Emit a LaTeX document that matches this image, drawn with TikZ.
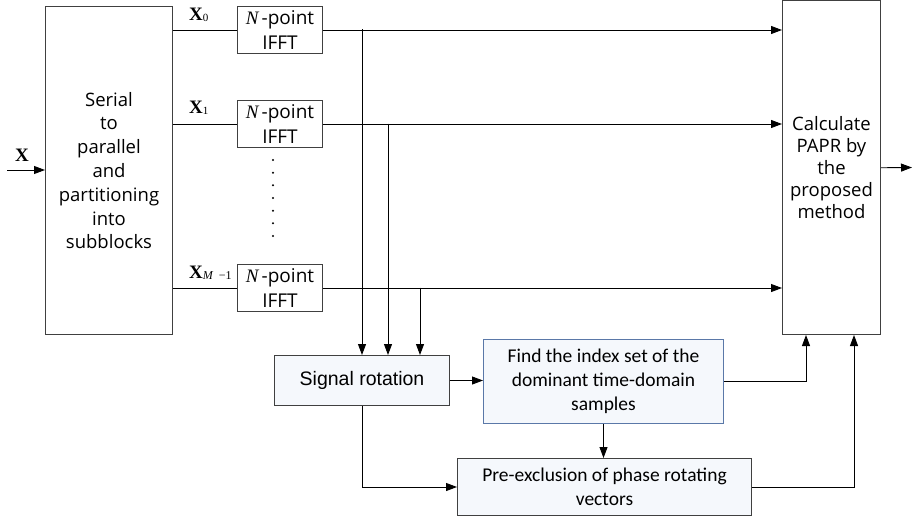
\documentclass[tikz,border=0pt]{standalone}
\usepackage{fontspec}
\setmainfont{Open Sans}
\newfontfamily\arialf{Liberation Sans}
\newfontfamily\calib{Carlito}
\newfontfamily\tnr{Liberation Serif}
\usetikzlibrary{arrows.meta}
\definecolor{edge}{HTML}{404040}
\definecolor{bluedge}{HTML}{5A78A8}
\definecolor{softfill}{HTML}{F5F8FC}
\begin{document}
\begin{tikzpicture}[x=1pt,y=-1pt,
  blk/.style={draw=edge, line width=1pt, inner sep=0pt, align=center, anchor=north west},
  arr/.style={-{Triangle[length=11pt,width=8pt]}, line width=0.9pt},
  ln/.style={line width=0.9pt},
  lbl/.style={inner sep=0pt, font=\tnr\fontsize{19}{19}\selectfont\bfseries}]
\useasboundingbox (0,0) rectangle (912,519);

% processing blocks
\node[blk, minimum width=127pt, minimum height=328pt,
      font=\fontsize{18.5}{23.8}\selectfont] (serial) at (45,6)
  {Serial\\to\\parallel\\and\\partitioning\\into\\subblocks};
\node[blk, minimum width=85pt, minimum height=47pt,
      font=\fontsize{19}{25}\selectfont] (ifft0) at (237,6)
  {{\tnr\itshape N}\,-point\\IFFT};
\node[blk, minimum width=85pt, minimum height=47pt,
      font=\fontsize{19}{25}\selectfont] (ifft1) at (237,100)
  {{\tnr\itshape N}\,-point\\IFFT};
\node[blk, minimum width=85pt, minimum height=47pt,
      font=\fontsize{19}{25}\selectfont] (ifft2) at (237,264)
  {{\tnr\itshape N}\,-point\\IFFT};
\node[blk, minimum width=98pt, minimum height=333.5pt,
      font=\fontsize{18.5}{22}\selectfont] (papr) at (782,0.5)
  {Calculate\\PAPR by\\the\\proposed\\method};
\node[blk, fill=softfill, minimum width=175pt, minimum height=50pt,
      font=\arialf\fontsize{19.5}{22}\selectfont] (sigrot) at (274,355)
  {Signal rotation};
\node[blk, draw=bluedge, fill=softfill, minimum width=240pt, minimum height=84pt,
      font=\calib\fontsize{19.5}{24}\selectfont] (find) at (483,339)
  {Find the index set of the\\dominant time-domain\\samples};
\node[blk, fill=softfill, minimum width=294pt, minimum height=57pt,
      font=\calib\fontsize{19.5}{24}\selectfont] (pre) at (457,458)
  {Pre-exclusion of phase rotating\\vectors};

% signal labels
\node[lbl] (lx) at (22,155) {X};
\node[lbl, anchor=west] (lx0) at (189,15)
  {X\raisebox{-1.5pt}{\mdseries\fontsize{11}{11}\selectfont 0}};
\node[lbl, anchor=west] (lx1) at (189,108)
  {X\raisebox{-1.5pt}{\mdseries\fontsize{11}{11}\selectfont 1}};
\node[lbl, anchor=west] (lxm) at (189,273)
  {X\raisebox{-1.5pt}{\mdseries\fontsize{12}{12}\selectfont\itshape M\upshape\ \ −1}};

% vertical ellipsis between the IFFT branches
\foreach \yy in {160,172.7,185.3,198,210.7,223.3,236}
  \fill (273,\yy) circle (1.1pt);

% input and serial-to-parallel outputs
\coordinate (xin) at (7,170);
\draw[arr] (xin) -- (xin -| serial.west);
\draw[ln] (ifft0.west -| serial.east) -- (ifft0.west);
\draw[ln] (ifft1.west -| serial.east) -- (ifft1.west);
\draw[ln] (ifft2.west -| serial.east) -- (ifft2.west);

% IFFT outputs into the PAPR block
\draw[arr] (ifft0.east) -- (ifft0.east -| papr.west);
\draw[arr] (ifft1.east) -- (ifft1.east -| papr.west);
\draw[arr] (ifft2.east) -- (ifft2.east -| papr.west);

% taps towards the signal rotation block
\coordinate (t0) at (362,29.5);
\coordinate (t1) at (388,123.5);
\coordinate (t2) at (420,287.5);
\draw[arr] (t0) -- (t0 |- sigrot.north);
\draw[arr] (t1) -- (t1 |- sigrot.north);
\draw[arr] (t2) -- (t2 |- sigrot.north);

% lower signal path
\coordinate (p1) at (806,0);
\coordinate (p2) at (854,0);
\draw[arr] (sigrot.east) -- (sigrot.east -| find.west);
\draw[arr] (find.east) -| (p1 |- papr.south);
\draw[arr] (find.south) -- (find.south |- pre.north);
\draw[arr] (t0 |- sigrot.south) |- (pre.west);
\draw[arr] (pre.east) -| (p2 |- papr.south);

% output
\coordinate (yout) at (912,167.5);
\draw[arr] (papr.east) -- (yout);
\end{tikzpicture}
\end{document}
